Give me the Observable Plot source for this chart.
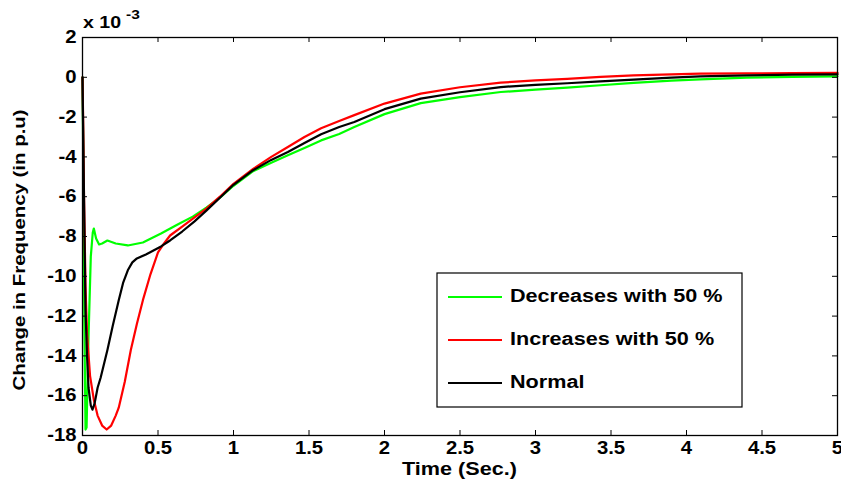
<!DOCTYPE html>
<html>
<head>
<meta charset="utf-8">
<script src="https://cdn.jsdelivr.net/npm/d3@7"></script>
<script src="https://cdn.jsdelivr.net/npm/@observablehq/plot@0.6"></script>
<style>
  body { margin: 0; background: #fff; }
  #chart svg { display: block; }
</style>
</head>
<body>
<div id="chart"></div>
<script>
// ---- data (values in units of 1e-3 p.u.) ----
const seriesNames = ["Decreases with 50 %", "Increases with 50 %", "Normal"];
const seriesColors = ["#00ff00", "#ff0000", "#000000"];

const decT = [0, 0.005, 0.012, 0.02, 0.027, 0.04, 0.055, 0.068, 0.075, 0.09, 0.11, 0.13, 0.165, 0.22, 0.3, 0.4, 0.52, 0.63, 0.73, 0.82, 0.91, 1.0, 1.13, 1.25, 1.36, 1.47, 1.58, 1.7, 1.8, 2.0, 2.24, 2.5, 2.77, 3.0, 3.21, 3.43, 3.65, 3.9, 4.09, 4.4, 4.7, 5.0];
const decV = [0, -4, -12, -17.7, -17.6, -13, -9, -7.8, -7.6, -8.1, -8.4, -8.35, -8.2, -8.35, -8.45, -8.3, -7.85, -7.4, -7.0, -6.55, -6.05, -5.45, -4.72, -4.3, -3.92, -3.55, -3.17, -2.85, -2.5, -1.85, -1.3, -1.0, -0.74, -0.62, -0.52, -0.4, -0.28, -0.17, -0.1, -0.02, 0.02, 0.05];

const incT = [0, 0.004, 0.01, 0.02, 0.03, 0.05, 0.075, 0.1, 0.13, 0.16, 0.19, 0.22, 0.24, 0.28, 0.32, 0.36, 0.4, 0.45, 0.5, 0.54, 0.58, 0.66, 0.74, 0.82, 0.91, 1.0, 1.13, 1.25, 1.36, 1.47, 1.58, 1.7, 1.8, 2.0, 2.24, 2.5, 2.77, 3.0, 3.21, 3.43, 3.65, 3.9, 4.09, 4.4, 4.7, 5.0];
const incV = [0, -2, -6, -10.5, -12.9, -15, -16.2, -17.0, -17.5, -17.7, -17.5, -17.0, -16.6, -15.3, -13.7, -12.4, -11.2, -9.9, -8.8, -8.35, -7.95, -7.5, -7.05, -6.6, -6.0, -5.35, -4.6, -4.0, -3.5, -3.0, -2.56, -2.2, -1.9, -1.32, -0.82, -0.5, -0.27, -0.15, -0.08, 0.02, 0.1, 0.15, 0.18, 0.2, 0.21, 0.22];

const normT = [0, 0.01, 0.02, 0.03, 0.04, 0.055, 0.066, 0.08, 0.1, 0.12, 0.165, 0.2, 0.24, 0.27, 0.3, 0.33, 0.36, 0.42, 0.47, 0.52, 0.58, 0.66, 0.74, 0.82, 0.91, 1.0, 1.13, 1.25, 1.36, 1.47, 1.58, 1.7, 1.8, 2.0, 2.24, 2.5, 2.77, 3.0, 3.21, 3.43, 3.65, 3.9, 4.09, 4.4, 4.7, 5.0];
const normV = [0, -6, -11.7, -14, -15.6, -16.5, -16.7, -16.4, -15.6, -15.1, -13.7, -12.5, -11.2, -10.3, -9.7, -9.3, -9.1, -8.9, -8.7, -8.5, -8.2, -7.75, -7.25, -6.7, -6.05, -5.4, -4.67, -4.15, -3.75, -3.3, -2.86, -2.5, -2.25, -1.6, -1.07, -0.75, -0.49, -0.38, -0.3, -0.2, -0.12, -0.02, 0.05, 0.1, 0.13, 0.15];

const xTicks = [0, 0.5, 1, 1.5, 2, 2.5, 3, 3.5, 4, 4.5, 5];
const yTicks = [-18, -16, -14, -12, -10, -8, -6, -4, -2, 0, 2];

const xLabel = "Time (Sec.)";
const yLabel = "Change in Frequency (in p.u)";
const exponentBase = "x 10";
const exponentPow = "-3";

// ---- build ----
(function () {
  const seriesT = [decT, incT, normT];
  const seriesV = [decV, incV, normV];
  const rows = (k) => seriesT[k].map((t, i) => ({t, v: seriesV[k][i], s: seriesNames[k]}));

  const W = 841, H = 484;
  const mT = 37, mB = 49, mL = 82, mR = 4;
  const plotW = W - mL - mR, plotH = H - mT - mB;
  const TK = 5; // inward tick length
  const FONT = "'Liberation Sans', Arial, sans-serif";

  const chart = Plot.plot({
    width: W,
    height: H,
    marginTop: mT,
    marginBottom: mB,
    marginLeft: mL,
    marginRight: mR,
    style: {fontFamily: FONT, fontSize: "17.5px", fontWeight: "bold", color: "#000", background: "#fff", overflow: "visible"},
    x: {domain: [0, 5]},
    y: {domain: [-18, 2]},
    marks: [
      Plot.line(rows(0), {x: "t", y: "v", stroke: seriesColors[0], strokeWidth: 2.2}),
      Plot.line(rows(1), {x: "t", y: "v", stroke: seriesColors[1], strokeWidth: 2.2}),
      Plot.line(rows(2), {x: "t", y: "v", stroke: seriesColors[2], strokeWidth: 2.2}),
      Plot.axisX(xTicks, {anchor: "bottom", tickSize: 0, tickPadding: 6, tickFormat: d => String(d), label: null}),
      Plot.axisY(yTicks, {anchor: "left", tickSize: 0, tickPadding: 6, tickFormat: d => String(d), label: null}),
      // inward ticks (MATLAB style) on all four sides
      Plot.tickX(xTicks, {x: d => d, insetTop: plotH - TK, stroke: "#000", strokeWidth: 1}),
      Plot.tickX(xTicks, {x: d => d, insetBottom: plotH - TK, stroke: "#000", strokeWidth: 1}),
      Plot.tickY(yTicks, {y: d => d, insetRight: plotW - TK, stroke: "#000", strokeWidth: 1}),
      Plot.tickY(yTicks, {y: d => d, insetLeft: plotW - TK, stroke: "#000", strokeWidth: 1}),
      Plot.frame({stroke: "#000", strokeWidth: 1.3})
    ]
  });

  document.getElementById("chart").appendChild(chart);

  const svg = d3.select(chart);
  const xs = chart.scale("x");
  const pLeft = xs.range[0], pRight = xs.range[1];

  const txt = (parent, size) => parent.append("text")
    .style("font-family", FONT).style("font-weight", "bold")
    .style("font-size", size + "px").attr("fill", "#000");

  // stretch text along its baseline (reference font is wider); returns new length
  const stretch = (sel, f) => {
    let last = 0;
    sel.each(function () {
      const n = this.getComputedTextLength();
      if (n > 0) {
        last = n * f;
        this.setAttribute("textLength", last.toFixed(1));
        this.setAttribute("lengthAdjust", "spacingAndGlyphs");
      }
    });
    return last;
  };

  stretch(svg.selectAll("g[aria-label='x-axis tick label'] text, g[aria-label='y-axis tick label'] text"), 1.16);

  stretch(txt(svg, 18)
    .attr("x", (pLeft + pRight) / 2).attr("y", 470)
    .attr("text-anchor", "middle").attr("dominant-baseline", "middle")
    .text(xLabel), 1.2);

  stretch(txt(svg, 17)
    .attr("transform", `translate(21,250) rotate(-90)`)
    .attr("text-anchor", "middle").attr("dominant-baseline", "middle")
    .text(yLabel), 1.2);

  // exponent "x 10^-3"
  const baseLen = stretch(txt(svg, 17)
    .attr("x", pLeft + 1).attr("y", 28)
    .attr("text-anchor", "start")
    .text(exponentBase), 1.15);
  stretch(txt(svg, 13.5)
    .attr("x", pLeft + 1 + baseLen + 5).attr("y", 19)
    .attr("text-anchor", "start")
    .text(exponentPow), 1.15);

  const lg = svg.append("g");
  lg.append("rect")
    .attr("x", 437).attr("y", 273).attr("width", 305).attr("height", 134)
    .attr("fill", "#fff").attr("stroke", "#000").attr("stroke-width", 1.2);
  seriesNames.forEach((name, i) => {
    const yy = 297 + i * 43;
    lg.append("line")
      .attr("x1", 448).attr("x2", 502).attr("y1", yy).attr("y2", yy)
      .attr("stroke", seriesColors[i]).attr("stroke-width", 2.2);
    stretch(txt(lg, 18)
      .attr("x", 510).attr("y", yy)
      .attr("text-anchor", "start")
      .attr("dominant-baseline", "middle")
      .text(name), 1.2);
  });
})();
</script>
</body>
</html>
